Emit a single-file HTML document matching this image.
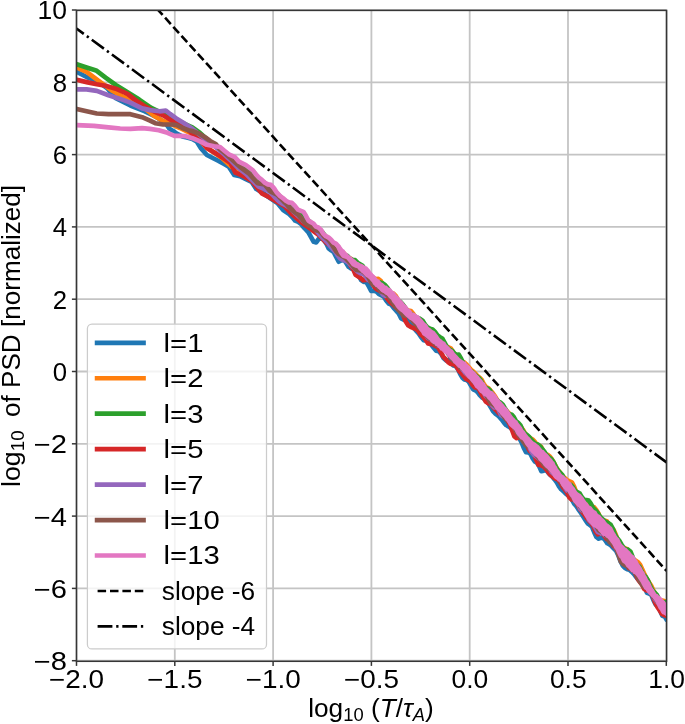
<!DOCTYPE html>
<html><head><meta charset="utf-8"><style>
html,body{margin:0;padding:0;background:#fff;}
svg{display:block;will-change:transform;filter:blur(0.35px);}
text{font-family:"Liberation Sans",sans-serif;fill:#000;}
</style></head><body>
<svg width="685" height="724" viewBox="0 0 685 724">
<rect x="0" y="0" width="685" height="724" fill="#fff"/>
<defs><clipPath id="ax"><rect x="76.5" y="10.4" width="590.10" height="650.90"/></clipPath></defs>
<g stroke="#c4c4c4" stroke-width="1.8"><line x1="76.50" y1="10.4" x2="76.50" y2="661.3"/><line x1="174.80" y1="10.4" x2="174.80" y2="661.3"/><line x1="273.10" y1="10.4" x2="273.10" y2="661.3"/><line x1="371.40" y1="10.4" x2="371.40" y2="661.3"/><line x1="469.70" y1="10.4" x2="469.70" y2="661.3"/><line x1="568.00" y1="10.4" x2="568.00" y2="661.3"/><line x1="666.30" y1="10.4" x2="666.30" y2="661.3"/><line x1="76.5" y1="660.70" x2="666.6" y2="660.70"/><line x1="76.5" y1="588.40" x2="666.6" y2="588.40"/><line x1="76.5" y1="516.10" x2="666.6" y2="516.10"/><line x1="76.5" y1="443.80" x2="666.6" y2="443.80"/><line x1="76.5" y1="371.50" x2="666.6" y2="371.50"/><line x1="76.5" y1="299.20" x2="666.6" y2="299.20"/><line x1="76.5" y1="226.90" x2="666.6" y2="226.90"/><line x1="76.5" y1="154.60" x2="666.6" y2="154.60"/><line x1="76.5" y1="82.30" x2="666.6" y2="82.30"/><line x1="76.5" y1="10.00" x2="666.6" y2="10.00"/></g>
<g clip-path="url(#ax)" fill="none" stroke-width="4.68" stroke-linejoin="round" stroke-linecap="square"><polyline points="76.8,71.9 86.6,77.0 96.8,80.7 107.0,88.0 115.8,98.2 130.4,105.5 145.0,111.3 156.7,117.2 165.4,123.0 169.4,128.6 176.3,133.3 182.4,136.5 188.0,137.8 192.3,139.0 196.7,141.5 201.1,148.5 206.9,155.0 212.7,158.0 218.6,160.9 223.7,163.8 228.8,166.7 234.2,175.0 240.0,176.2 245.9,179.1 251.7,182.0 256.4,189.1 263.0,193.0 270.4,198.4 277.4,203.1 283.2,210.1 286.2,212.1 289.2,214.1 292.2,217.1 295.2,220.7 298.2,221.9 301.2,224.1 303.7,227.4 306.2,230.0 308.7,232.8 311.2,237.3 313.7,241.8 316.2,242.4 318.7,239.0 321.2,238.2 323.7,239.7 326.2,243.3 328.7,248.4 331.2,250.4 333.7,252.0 336.2,257.0 338.7,261.7 341.2,260.5 343.7,259.4 346.2,262.9 348.7,266.9 351.2,268.5 353.7,269.4 356.2,271.5 358.7,275.2 361.2,280.1 363.7,281.8 366.2,281.8 368.7,286.1 371.2,290.9 373.7,290.8 376.2,291.4 378.7,293.8 381.2,295.1 383.7,296.5 386.2,300.5 388.7,303.5 391.2,304.5 393.7,307.9 396.2,310.6 398.7,313.5 401.2,318.4 403.7,319.7 406.2,319.5 408.7,322.4 411.2,325.6 413.7,327.8 416.2,330.7 418.7,333.5 421.2,337.2 423.7,340.1 426.2,340.7 428.7,342.3 431.2,344.6 433.7,347.7 436.2,350.6 438.7,351.2 441.2,353.8 443.7,358.3 446.2,360.4 448.7,360.1 451.2,362.7 453.4,365.5 455.6,366.0 457.8,368.8 460.0,373.5 462.2,377.4 464.4,379.4 466.6,380.0 468.8,381.8 471.0,385.6 473.2,389.3 475.4,390.3 477.6,392.1 479.8,395.2 482.0,397.4 484.2,398.7 486.4,400.6 488.6,403.6 490.8,407.2 493.0,411.2 495.2,413.5 497.4,415.0 499.6,417.1 501.8,419.6 504.0,422.6 506.2,425.1 508.4,426.4 510.6,427.9 512.8,430.1 515.0,431.1 517.2,433.4 519.4,438.1 521.6,442.3 523.8,447.9 526.0,452.2 528.2,452.3 530.4,453.8 532.6,458.2 534.8,461.4 537.0,462.7 539.2,466.4 541.4,471.2 543.6,470.7 545.8,469.6 548.0,472.4 550.2,474.8 552.4,476.7 554.6,479.4 556.8,482.4 559.0,486.3 561.2,489.3 563.4,491.1 565.6,493.4 567.8,495.2 570.0,496.4 572.2,500.2 574.4,504.0 576.6,506.4 578.8,509.9 581.0,513.0 583.2,516.4 585.4,519.9 587.6,523.3 589.8,525.0 592.0,526.8 594.2,532.2 596.4,537.0 598.6,538.7 600.8,537.8 603.0,537.7 605.2,540.1 607.4,543.3 609.6,544.5 611.8,546.3 614.0,548.7 616.2,551.0 618.4,555.4 620.6,561.4 622.8,565.6 625.0,568.0 627.2,569.2 629.4,569.8 631.6,571.7 633.8,573.9 636.0,576.7 638.2,579.4 640.4,581.4 642.6,583.3 644.8,587.9 647.0,592.8 649.2,593.6 651.4,595.1 653.6,600.4 655.8,604.7 658.0,605.9 660.2,610.8 662.4,615.7 664.6,616.4 666.8,620.0 669.0,619.6" stroke="#1f77b4"/><polyline points="76.8,67.5 86.6,71.9 98.3,80.7 111.4,90.1 123.1,96.7 133.3,99.6 145.0,108.4 153.8,115.7 163.1,121.0 170.0,123.5 180.0,128.0 190.0,133.0 200.0,140.5 207.0,148.0 214.2,152.5 222.0,158.0 231.9,167.0 234.9,167.5 237.9,169.6 240.9,171.0 243.9,171.9 246.9,172.3 249.9,172.9 252.9,175.0 255.9,180.5 258.9,186.2 261.9,188.2 264.9,188.0 267.9,189.2 270.9,191.7 273.9,195.3 276.9,198.4 279.9,201.7 282.9,204.4 285.9,206.1 288.9,208.3 291.9,210.6 294.9,213.2 297.9,217.1 300.9,220.8 303.4,222.0 305.9,221.9 308.4,223.0 310.9,225.2 313.4,226.1 315.9,228.4 318.4,232.1 320.9,234.5 323.4,235.5 325.9,236.8 328.4,239.9 330.9,243.7 333.4,248.1 335.9,251.7 338.4,251.9 340.9,251.4 343.4,252.9 345.9,255.7 348.4,257.5 350.9,258.8 353.4,260.8 355.9,263.2 358.4,267.0 360.9,270.2 363.4,271.1 365.9,272.0 368.4,274.3 370.9,276.3 373.4,277.8 375.9,279.0 378.4,278.9 380.9,281.1 383.4,285.7 385.9,288.5 388.4,291.2 390.9,293.2 393.4,293.5 395.9,296.2 398.4,300.6 400.9,303.5 403.4,306.0 405.9,309.2 408.4,310.6 410.9,311.1 413.4,314.1 415.9,318.4 418.4,319.8 420.9,320.8 423.4,325.0 425.9,328.7 428.4,330.3 430.9,330.9 433.4,331.7 435.9,335.5 438.4,341.0 440.9,343.8 443.4,345.2 445.9,346.4 448.4,347.2 450.9,348.6 453.1,352.0 455.3,355.3 457.5,357.0 459.7,360.2 461.9,362.0 464.1,362.3 466.3,364.2 468.5,366.9 470.7,369.4 472.9,371.3 475.1,373.4 477.3,375.8 479.5,377.5 481.7,379.9 483.9,384.2 486.1,387.1 488.3,388.1 490.5,390.6 492.7,393.1 494.9,396.1 497.1,399.9 499.3,403.2 501.5,406.1 503.7,407.9 505.9,410.2 508.1,412.4 510.3,414.9 512.5,418.4 514.7,421.5 516.9,424.3 519.1,426.0 521.3,427.5 523.5,430.7 525.7,434.4 527.9,436.8 530.1,438.0 532.3,439.2 534.5,441.4 536.7,444.3 538.9,445.4 541.1,446.7 543.3,451.4 545.5,454.6 547.7,454.9 549.9,456.6 552.1,459.7 554.3,463.5 556.5,467.9 558.7,470.8 560.9,473.7 563.1,476.6 565.3,478.5 567.5,480.4 569.7,481.4 571.9,482.3 574.1,486.6 576.3,492.3 578.5,495.1 580.7,497.0 582.9,499.7 585.1,501.8 587.3,505.0 589.5,507.6 591.7,507.0 593.9,507.1 596.1,509.7 598.3,513.3 600.5,518.1 602.7,520.8 604.9,520.6 607.1,521.5 609.3,525.6 611.5,528.1 613.7,530.0 615.9,535.0 618.1,540.5 620.3,544.5 622.5,547.3 624.7,548.0 626.9,549.1 629.1,552.6 631.3,557.6 633.5,560.0 635.7,560.6 637.9,562.1 640.1,564.7 642.3,569.4 644.5,574.4 646.7,578.7 648.9,582.2 651.1,585.6 653.3,590.3 655.5,594.2 657.7,598.5 659.9,600.9 662.1,600.5 664.3,601.0 666.5,603.1 668.7,604.2" stroke="#ff7f0e"/><polyline points="76.8,64.3 86.6,67.5 96.1,70.4 105.6,77.7 115.8,85.0 127.5,92.3 139.2,99.6 150.8,107.7 160.0,112.0 170.0,117.0 180.0,122.0 192.3,127.3 200.0,133.0 210.0,142.0 220.0,150.0 231.0,160.0 234.0,160.4 237.0,162.4 240.0,164.5 243.0,165.6 246.0,166.7 249.0,168.3 252.0,170.6 255.0,173.8 258.0,178.0 261.0,181.1 264.0,182.4 267.0,185.3 270.0,188.0 273.0,190.2 276.0,192.9 279.0,195.6 282.0,198.4 285.0,200.7 288.0,203.2 291.0,205.1 294.0,207.2 297.0,210.5 300.0,213.7 302.5,215.5 305.0,217.9 307.5,219.9 310.0,221.6 312.5,224.8 315.0,227.8 317.5,229.1 320.0,229.9 322.5,232.3 325.0,235.6 327.5,239.5 330.0,242.5 332.5,243.9 335.0,245.4 337.5,249.2 340.0,253.0 342.5,255.0 345.0,255.1 347.5,256.0 350.0,258.9 352.5,259.7 355.0,260.1 357.5,262.7 360.0,264.2 362.5,265.7 365.0,269.5 367.5,273.4 370.0,275.4 372.5,278.2 375.0,282.2 377.5,283.2 380.0,282.4 382.5,283.3 385.0,284.9 387.5,287.9 390.0,291.8 392.5,294.7 395.0,297.5 397.5,299.9 400.0,301.4 402.5,304.1 405.0,307.7 407.5,310.7 410.0,313.3 412.5,314.9 415.0,316.4 417.5,318.1 420.0,318.8 422.5,320.6 425.0,324.6 427.5,327.5 430.0,328.6 432.5,329.5 435.0,332.0 437.5,335.4 440.0,337.2 442.5,338.8 445.0,343.3 447.5,348.0 450.0,349.8 452.2,350.8 454.4,353.5 456.6,354.8 458.8,354.7 461.0,358.4 463.2,363.0 465.4,366.3 467.6,369.3 469.8,370.8 472.0,371.9 474.2,374.1 476.4,376.3 478.6,377.7 480.8,380.5 483.0,385.0 485.2,388.0 487.4,388.5 489.6,389.9 491.8,393.6 494.0,397.0 496.2,399.5 498.4,401.7 500.6,402.7 502.8,404.8 505.0,408.5 507.2,412.5 509.4,414.5 511.6,414.5 513.8,417.1 516.0,421.1 518.2,422.8 520.4,425.3 522.6,430.2 524.8,433.5 527.0,434.9 529.2,437.0 531.4,439.9 533.6,442.3 535.8,444.1 538.0,444.6 540.2,446.3 542.4,449.3 544.6,452.0 546.8,455.4 549.0,457.5 551.2,459.0 553.4,461.9 555.6,466.4 557.8,470.2 560.0,472.5 562.2,474.8 564.4,479.7 566.6,484.0 568.8,485.2 571.0,484.9 573.2,487.6 575.4,491.2 577.6,492.3 579.8,493.6 582.0,497.4 584.2,499.8 586.4,500.0 588.6,500.5 590.8,503.7 593.0,507.8 595.2,510.1 597.4,512.6 599.6,516.1 601.8,518.6 604.0,520.6 606.2,522.1 608.4,523.1 610.6,524.7 612.8,528.6 615.0,534.7 617.2,538.4 619.4,540.9 621.6,544.7 623.8,548.1 626.0,549.7 628.2,549.7 630.4,551.5 632.6,556.9 634.8,562.4 637.0,564.9 639.2,566.4 641.4,570.9 643.6,575.0 645.8,577.0 648.0,580.5 650.2,586.1 652.4,590.3 654.6,592.5 656.8,594.9 659.0,599.4 661.2,602.0 663.4,602.5 665.6,602.1 667.8,602.5" stroke="#2ca02c"/><polyline points="76.8,79.9 86.6,82.1 96.8,84.3 105.6,85.8 115.8,88.7 127.5,93.8 134.8,99.6 143.5,105.5 153.8,111.3 162.5,115.0 171.9,120.6 178.0,122.8 185.0,127.0 192.3,133.9 199.6,139.5 206.9,148.0 214.2,152.5 220.0,156.0 225.9,159.8 230.3,162.8 235.4,172.7 243.5,176.2 251.7,180.9 256.4,186.7 262.2,193.7 269.2,197.2 277.4,201.9 285.0,206.6 291.7,213.9 301.0,222.0 309.2,227.9 318.5,234.9 326.7,243.1 334.9,248.9 343.1,254.7 345.6,257.9 348.1,261.7 350.6,265.6 353.1,269.0 355.6,274.7 358.1,276.4 360.6,277.9 363.1,280.3 365.6,279.9 368.1,279.6 370.6,281.8 373.1,284.9 375.6,288.3 378.1,290.0 380.6,291.2 383.1,293.8 385.6,296.4 388.1,299.6 390.6,302.4 393.1,304.6 395.6,307.1 398.1,309.3 400.6,311.0 403.1,314.8 405.6,321.3 408.1,325.2 410.6,326.8 413.1,328.0 415.6,328.7 418.1,330.7 420.6,334.3 423.1,336.5 425.6,339.5 428.1,343.4 430.6,344.0 433.1,344.4 435.6,345.9 438.1,347.3 440.6,351.5 443.1,356.5 445.6,359.1 448.1,362.1 450.6,364.0 452.8,364.2 455.0,364.6 457.2,367.5 459.4,371.2 461.6,373.2 463.8,376.0 466.0,378.8 468.2,379.8 470.4,381.5 472.6,385.0 474.8,387.4 477.0,387.6 479.2,389.6 481.4,393.8 483.6,397.9 485.8,401.6 488.0,403.1 490.2,403.6 492.4,406.4 494.6,408.7 496.8,410.7 499.0,413.4 501.2,413.9 503.4,415.0 505.6,418.3 507.8,421.0 510.0,424.5 512.2,430.4 514.4,436.4 516.6,438.1 518.8,437.1 521.0,437.7 523.2,440.7 525.4,443.6 527.6,446.9 529.8,450.9 532.0,452.5 534.2,454.6 536.4,460.3 538.6,465.0 540.8,465.2 543.0,466.0 545.2,468.0 547.4,470.8 549.6,473.9 551.8,475.9 554.0,477.7 556.2,478.9 558.4,479.8 560.6,482.9 562.8,487.0 565.0,489.6 567.2,492.7 569.4,497.6 571.6,499.5 573.8,499.1 576.0,501.3 578.2,505.9 580.4,509.6 582.6,512.3 584.8,515.2 587.0,518.3 589.2,521.2 591.4,523.4 593.6,526.7 595.8,531.8 598.0,534.4 600.2,533.0 602.4,533.2 604.6,536.3 606.8,539.0 609.0,539.8 611.2,542.1 613.4,545.7 615.6,547.8 617.8,551.0 620.0,554.3 622.2,556.8 624.4,559.9 626.6,564.7 628.8,568.1 631.0,569.1 633.2,569.6 635.4,573.4 637.6,578.7 639.8,581.8 642.0,584.7 644.2,588.8 646.4,590.5 648.6,590.7 650.8,592.1 653.0,596.5 655.2,602.6 657.4,607.0 659.6,610.3 661.8,613.7 664.0,615.1 666.2,615.5 668.4,617.6" stroke="#d62728"/><polyline points="76.8,89.4 86.6,89.4 96.8,90.9 108.5,95.3 120.2,98.9 130.4,102.6 142.1,108.4 150.0,110.1 159.6,111.3 165.8,110.6 170.1,114.0 176.3,118.4 183.3,122.8 192.3,128.8 199.6,134.6 206.9,140.4 215.7,147.0 224.4,154.5 230.3,160.0 236.5,166.5 245.9,173.9 258.7,186.7 266.9,190.2 269.9,192.1 272.9,195.1 275.9,198.4 278.9,201.3 281.9,203.4 284.9,204.8 287.9,206.7 290.9,208.9 293.9,212.0 296.9,214.9 299.9,217.3 302.9,220.7 305.4,222.8 307.9,223.6 310.4,225.2 312.9,227.4 315.4,229.5 317.9,232.5 320.4,235.6 322.9,238.1 325.4,240.4 327.9,243.0 330.4,246.2 332.9,249.1 335.4,251.8 337.9,255.6 340.4,258.7 342.9,260.0 345.4,260.6 347.9,262.2 350.4,264.7 352.9,267.1 355.4,269.3 357.9,271.8 360.4,273.3 362.9,273.3 365.4,275.9 367.9,279.6 370.4,281.1 372.9,282.7 375.4,284.7 377.9,286.2 380.4,290.0 382.9,294.7 385.4,295.8 387.9,295.4 390.4,297.1 392.9,300.9 395.4,304.2 397.9,305.7 400.4,308.3 402.9,312.4 405.4,314.7 407.9,315.2 410.4,315.7 412.9,317.4 415.4,319.8 417.9,322.8 420.4,327.0 422.9,330.5 425.4,334.1 427.9,338.0 430.4,339.1 432.9,339.6 435.4,342.9 437.9,345.4 440.4,345.7 442.9,347.6 445.4,350.2 447.9,353.4 450.4,356.4 452.6,356.8 454.8,358.8 457.0,362.6 459.2,365.5 461.4,368.2 463.6,370.7 465.8,373.5 468.0,375.4 470.2,376.2 472.4,378.9 474.6,382.2 476.8,385.2 479.0,387.6 481.2,389.0 483.4,391.9 485.6,395.8 487.8,398.0 490.0,400.5 492.2,405.4 494.4,407.5 496.6,406.8 498.8,410.3 501.0,415.1 503.2,416.7 505.4,417.4 507.6,419.0 509.8,421.2 512.0,423.7 514.2,427.2 516.4,430.9 518.6,433.3 520.8,435.1 523.0,437.9 525.2,441.1 527.4,444.0 529.6,447.8 531.8,452.0 534.0,454.8 536.2,456.5 538.4,458.3 540.6,459.7 542.8,461.2 545.0,463.5 547.2,466.0 549.4,468.4 551.6,471.9 553.8,473.9 556.0,474.8 558.2,477.0 560.4,480.0 562.6,483.4 564.8,486.9 567.0,490.5 569.2,491.4 571.4,492.3 573.6,495.3 575.8,498.7 578.0,503.8 580.2,508.9 582.4,510.7 584.6,511.0 586.8,514.7 589.0,519.9 591.2,522.2 593.4,524.1 595.6,528.2 597.8,532.0 600.0,532.8 602.2,533.0 604.4,534.8 606.6,536.5 608.8,536.9 611.0,539.0 613.2,543.1 615.4,546.6 617.6,550.7 619.8,556.4 622.0,560.8 624.2,561.1 626.4,562.2 628.6,565.2 630.8,568.5 633.0,570.9 635.2,571.5 637.4,572.7 639.6,575.0 641.8,579.5 644.0,584.5 646.2,586.9 648.4,588.4 650.6,591.6 652.8,595.6 655.0,599.2 657.2,602.0 659.4,604.5 661.6,606.9 663.8,610.1 666.0,612.4 668.2,611.2" stroke="#9467bd"/><polyline points="76.8,109.1 86.6,111.3 96.8,113.5 108.5,114.2 120.2,114.2 130.4,114.2 142.1,117.2 150.0,120.6 155.3,123.2 163.1,124.5 171.9,124.5 176.3,125.0 182.4,128.0 188.5,130.2 192.3,131.0 199.6,133.9 205.4,137.5 210.5,141.2 215.7,144.1 220.0,149.2 224.4,152.8 230.3,158.0 235.0,162.3 240.0,166.9 249.4,173.9 257.6,183.2 264.6,184.4 270.4,191.4 277.4,194.9 280.4,198.2 283.4,201.2 286.4,203.9 289.4,207.5 292.4,210.4 295.4,212.7 298.4,214.9 301.4,218.4 303.9,221.5 306.4,223.9 308.9,225.7 311.4,226.7 313.9,228.7 316.4,230.4 318.9,230.8 321.4,233.1 323.9,236.1 326.4,238.2 328.9,240.3 331.4,243.7 333.9,247.8 336.4,251.6 338.9,254.1 341.4,255.6 343.9,256.9 346.4,258.9 348.9,261.6 351.4,264.1 353.9,267.3 356.4,270.0 358.9,270.3 361.4,270.5 363.9,272.2 366.4,274.5 368.9,278.2 371.4,282.7 373.9,284.6 376.4,285.5 378.9,288.7 381.4,291.6 383.9,292.6 386.4,294.1 388.9,297.0 391.4,300.5 393.9,304.1 396.4,307.5 398.9,310.5 401.4,313.2 403.9,315.4 406.4,315.9 408.9,316.3 411.4,319.1 413.9,322.2 416.4,324.8 418.9,327.6 421.4,329.2 423.9,331.7 426.4,335.7 428.9,338.0 431.4,339.7 433.9,342.5 436.4,344.9 438.9,345.0 441.4,345.0 443.9,348.0 446.4,351.4 448.9,354.1 451.4,358.1 453.6,361.0 455.8,361.5 458.0,363.8 460.2,367.6 462.4,368.5 464.6,369.6 466.8,373.4 469.0,376.3 471.2,378.5 473.4,381.3 475.6,382.9 477.8,384.8 480.0,388.5 482.2,391.4 484.4,393.2 486.6,395.7 488.8,399.8 491.0,403.2 493.2,404.4 495.4,406.3 497.6,408.2 499.8,410.1 502.0,413.6 504.2,417.1 506.4,419.6 508.6,420.8 510.8,421.9 513.0,424.8 515.2,429.0 517.4,433.2 519.6,436.6 521.8,439.3 524.0,442.7 526.2,445.6 528.4,446.1 530.6,446.4 532.8,448.4 535.0,452.5 537.2,456.4 539.4,458.6 541.6,461.2 543.8,464.3 546.0,467.0 548.2,468.7 550.4,469.5 552.6,471.4 554.8,474.2 557.0,476.5 559.2,478.5 561.4,482.5 563.6,485.8 565.8,486.9 568.0,489.6 570.2,493.0 572.4,496.9 574.6,500.6 576.8,503.3 579.0,505.1 581.2,507.3 583.4,510.8 585.6,513.7 587.8,516.6 590.0,517.8 592.2,517.9 594.4,521.4 596.6,526.6 598.8,530.2 601.0,531.6 603.2,532.1 605.4,533.9 607.6,538.8 609.8,542.2 612.0,543.6 614.2,544.9 616.4,548.2 618.6,555.3 620.8,561.6 623.0,563.9 625.2,565.2 627.4,566.0 629.6,567.4 631.8,570.0 634.0,571.1 636.2,573.9 638.4,578.7 640.6,582.7 642.8,585.6 645.0,587.5 647.2,588.4 649.4,590.6 651.6,594.3 653.8,596.7 656.0,599.3 658.2,603.2 660.4,607.2 662.6,609.5 664.8,609.8 667.0,611.8 669.2,614.4" stroke="#8c564b"/><polygon points="330.0,236.5 331.2,237.6 332.4,239.3 333.6,240.0 334.8,241.7 336.0,242.2 337.2,242.8 338.4,243.7 339.6,244.9 340.8,245.7 342.0,247.5 343.2,249.1 344.4,249.7 345.6,251.6 346.8,252.8 348.0,253.8 349.2,255.3 350.4,256.3 351.6,256.7 352.8,258.1 354.0,258.9 355.2,259.7 356.4,261.0 357.6,261.9 358.8,262.2 360.0,263.5 361.2,264.4 362.4,264.9 363.6,265.7 364.8,267.2 366.0,267.8 367.2,268.9 368.4,270.3 369.6,271.6 370.8,271.9 372.0,272.4 373.2,273.9 374.4,275.1 375.6,276.3 376.8,277.9 378.0,279.2 379.2,279.5 380.4,281.2 381.6,282.5 382.8,283.0 384.0,284.2 385.2,285.5 386.4,285.5 387.6,286.5 388.8,287.7 390.0,287.8 391.2,288.8 392.4,290.2 393.6,291.3 394.8,292.0 396.0,293.9 397.2,295.2 398.4,296.6 399.6,297.6 400.8,299.6 402.0,300.6 403.2,301.7 404.4,303.4 405.6,304.8 406.8,305.6 408.0,307.6 409.2,308.8 410.4,309.4 411.6,310.9 412.8,312.7 414.0,312.6 415.2,313.5 416.4,314.3 417.6,314.9 418.8,315.3 420.0,316.9 421.2,318.3 422.4,319.5 423.6,321.0 424.8,322.5 426.0,323.6 427.2,324.6 428.4,326.7 429.6,327.8 430.8,328.5 432.0,329.8 433.2,330.5 434.4,331.1 435.6,332.5 436.8,334.0 438.0,335.4 439.2,337.6 440.4,338.7 441.6,339.6 442.8,340.7 444.0,341.6 445.2,342.1 446.4,344.2 447.6,345.2 448.8,346.5 450.0,347.7 451.2,349.0 452.4,349.6 453.6,351.1 454.8,353.2 456.0,354.7 457.2,356.4 458.4,357.5 459.6,358.8 460.8,358.8 462.0,359.9 463.2,360.5 464.4,361.4 465.6,361.5 466.8,363.5 468.0,364.5 469.2,365.5 470.4,366.7 471.6,368.7 472.8,369.9 474.0,370.9 475.2,372.1 476.4,373.6 477.6,375.1 478.8,376.1 480.0,377.7 481.2,379.1 482.4,380.3 483.6,382.0 484.8,383.1 486.0,385.2 487.2,387.1 488.4,388.3 489.6,389.5 490.8,390.8 492.0,391.0 493.2,391.7 494.4,393.2 495.6,394.2 496.8,396.0 498.0,398.1 499.2,399.3 500.4,401.0 501.6,402.1 502.8,403.4 504.0,404.7 505.2,406.5 506.4,407.2 507.6,408.8 508.8,410.5 510.0,412.2 511.2,414.3 512.4,415.9 513.6,417.4 514.8,418.5 516.0,419.9 517.2,420.4 518.4,422.7 519.6,424.2 520.8,425.7 522.0,427.2 523.2,429.7 524.4,430.7 525.6,432.5 526.8,434.2 528.0,435.8 529.2,437.2 530.4,438.3 531.6,439.8 532.8,441.1 534.0,442.0 535.2,442.4 536.4,443.6 537.6,444.6 538.8,445.2 540.0,446.7 541.2,448.3 542.4,449.7 543.6,449.9 544.8,451.5 546.0,452.8 547.2,453.8 548.4,455.1 549.6,456.4 550.8,458.0 552.0,458.9 553.2,460.9 554.4,462.0 555.6,465.0 556.8,466.6 558.0,469.0 559.2,470.2 560.4,472.3 561.6,474.0 562.8,474.9 564.0,475.5 565.2,476.9 566.4,477.9 567.6,478.7 568.8,480.7 570.0,481.9 571.2,482.6 572.4,484.9 573.6,486.4 574.8,487.7 576.0,489.9 577.2,491.8 578.4,492.8 579.6,493.5 580.8,494.3 582.0,495.7 583.2,497.0 584.4,499.1 585.6,500.8 586.8,502.3 588.0,503.5 589.2,505.5 590.4,506.1 591.6,506.8 592.8,508.4 594.0,509.9 595.2,510.4 596.4,511.3 597.6,513.4 598.8,514.6 600.0,515.0 601.2,516.4 602.4,517.7 603.6,518.8 604.8,520.0 606.0,521.8 607.2,523.2 608.4,523.9 609.6,525.0 610.8,526.3 612.0,527.0 613.2,529.4 614.4,531.9 615.6,533.7 616.8,535.9 618.0,537.6 619.2,538.6 620.4,541.4 621.6,543.7 622.8,545.1 624.0,546.1 625.2,547.6 626.4,547.9 627.6,549.2 628.8,550.6 630.0,551.4 631.2,553.3 632.4,554.4 633.6,555.3 634.8,556.6 636.0,559.1 637.2,560.0 638.4,562.8 639.6,564.6 640.8,566.2 642.0,568.0 643.2,570.8 644.4,572.1 645.6,575.0 646.8,576.8 648.0,579.4 649.2,580.9 650.4,583.1 651.6,585.7 652.8,588.3 654.0,589.8 655.2,592.1 656.4,593.7 657.6,594.0 658.8,595.4 660.0,596.2 661.2,597.1 662.4,598.7 663.6,600.1 664.8,600.9 666.0,602.7 667.2,603.6 668.4,603.7 669.6,604.1 669.6,615.9 668.4,616.7 667.2,616.5 666.0,616.2 664.8,615.2 663.6,614.6 662.4,614.3 661.2,612.8 660.0,610.3 658.8,608.9 657.6,606.6 656.4,604.2 655.2,601.8 654.0,600.1 652.8,598.1 651.6,597.3 650.4,595.8 649.2,594.8 648.0,593.6 646.8,591.9 645.6,590.0 644.4,589.2 643.2,587.0 642.0,585.0 640.8,582.5 639.6,580.7 638.4,579.0 637.2,576.9 636.0,575.5 634.8,574.3 633.6,574.1 632.4,572.3 631.2,571.9 630.0,570.4 628.8,569.1 627.6,567.8 626.4,566.8 625.2,564.8 624.0,563.6 622.8,563.0 621.6,561.2 620.4,558.4 619.2,557.6 618.0,555.3 616.8,552.8 615.6,550.1 614.4,548.6 613.2,546.1 612.0,544.0 610.8,542.5 609.6,540.7 608.4,539.3 607.2,538.0 606.0,537.5 604.8,536.1 603.6,535.9 602.4,535.2 601.2,534.1 600.0,532.4 598.8,531.4 597.6,529.4 596.4,528.7 595.2,527.7 594.0,527.5 592.8,526.5 591.6,525.6 590.4,523.8 589.2,522.7 588.0,521.3 586.8,519.5 585.6,517.7 584.4,516.1 583.2,514.0 582.0,511.6 580.8,510.3 579.6,508.6 578.4,507.0 577.2,506.5 576.0,505.1 574.8,503.6 573.6,502.6 572.4,500.2 571.2,497.6 570.0,496.3 568.8,494.2 567.6,491.8 566.4,491.5 565.2,490.5 564.0,488.2 562.8,487.2 561.6,486.0 560.4,483.8 559.2,481.8 558.0,481.4 556.8,480.0 555.6,479.3 554.4,478.3 553.2,476.8 552.0,474.4 550.8,473.0 549.6,471.4 548.4,470.2 547.2,468.8 546.0,468.1 544.8,466.7 543.6,465.4 542.4,463.8 541.2,462.6 540.0,461.6 538.8,460.4 537.6,458.5 536.4,457.3 535.2,456.6 534.0,455.5 532.8,453.9 531.6,452.9 530.4,451.6 529.2,450.2 528.0,448.1 526.8,446.4 525.6,445.0 524.4,443.1 523.2,441.0 522.0,439.7 520.8,439.5 519.6,437.9 518.4,436.6 517.2,435.2 516.0,433.5 514.8,430.7 513.6,429.5 512.4,428.5 511.2,427.6 510.0,426.5 508.8,425.3 507.6,423.0 506.4,421.2 505.2,420.2 504.0,418.3 502.8,416.9 501.6,415.8 500.4,414.5 499.2,412.8 498.0,411.8 496.8,410.2 495.6,409.4 494.4,407.4 493.2,405.4 492.0,404.2 490.8,402.6 489.6,400.8 488.4,399.7 487.2,398.4 486.0,396.8 484.8,396.5 483.6,395.9 482.4,394.6 481.2,393.3 480.0,392.7 478.8,391.2 477.6,389.2 476.4,388.3 475.2,387.5 474.0,385.2 472.8,383.4 471.6,382.2 470.4,380.7 469.2,379.2 468.0,378.6 466.8,377.0 465.6,375.4 464.4,373.7 463.2,372.5 462.0,370.8 460.8,369.9 459.6,368.1 458.4,367.7 457.2,366.5 456.0,365.2 454.8,363.9 453.6,363.2 452.4,361.3 451.2,359.9 450.0,359.0 448.8,357.3 447.6,356.2 446.4,354.6 445.2,353.9 444.0,352.9 442.8,352.1 441.6,350.8 440.4,350.6 439.2,348.7 438.0,347.6 436.8,346.2 435.6,346.0 434.4,344.3 433.2,344.1 432.0,342.9 430.8,342.2 429.6,340.3 428.4,339.4 427.2,338.6 426.0,337.4 424.8,336.4 423.6,335.7 422.4,334.9 421.2,332.6 420.0,331.3 418.8,329.6 417.6,327.8 416.4,325.6 415.2,324.1 414.0,323.0 412.8,321.8 411.6,320.7 410.4,319.9 409.2,319.5 408.0,318.3 406.8,317.3 405.6,316.2 404.4,315.0 403.2,313.8 402.0,312.6 400.8,311.8 399.6,310.8 398.4,309.7 397.2,308.6 396.0,307.0 394.8,305.0 393.6,303.5 392.4,302.3 391.2,299.7 390.0,298.8 388.8,297.8 387.6,296.0 386.4,294.7 385.2,294.6 384.0,293.2 382.8,292.7 381.6,292.1 380.4,290.9 379.2,289.2 378.0,288.8 376.8,287.3 375.6,286.9 374.4,285.5 373.2,284.4 372.0,282.3 370.8,280.9 369.6,279.6 368.4,278.4 367.2,277.4 366.0,276.9 364.8,275.7 363.6,274.5 362.4,273.2 361.2,272.5 360.0,271.1 358.8,270.2 357.6,268.6 356.4,267.9 355.2,266.7 354.0,265.8 352.8,265.1 351.6,263.9 350.4,263.0 349.2,261.8 348.0,260.8 346.8,258.9 345.6,257.7 344.4,256.8 343.2,256.1 342.0,255.0 340.8,254.3 339.6,252.8 338.4,251.2 337.2,249.2 336.0,247.2 334.8,245.7 333.6,244.8 332.4,243.7 331.2,242.5 330.0,241.8" fill="#e377c2" stroke="none"/><polyline points="76.8,125.2 93.9,125.9 108.5,127.4 120.2,128.5 130.4,128.8 142.1,128.1 150.0,128.9 158.8,130.2 167.5,132.8 174.5,135.9 178.9,135.9 185.0,136.1 192.3,138.2 199.6,141.2 206.9,144.8 214.2,146.3 220.0,147.0 224.4,150.7 228.8,154.3 235.0,157.2 238.9,161.6 245.9,165.1 252.9,170.4 255.9,174.4 258.9,177.6 261.9,179.9 264.9,182.7 267.9,184.4 270.9,184.9 273.9,188.1 276.9,192.7 279.9,195.9 282.9,198.1 285.9,200.8 288.9,202.4 291.9,202.8 294.9,205.9 297.9,209.6 300.9,210.8 303.4,211.8 305.9,215.8 308.4,220.5 310.9,222.2 313.4,223.5 315.9,226.6 318.4,227.5 320.9,229.7 323.4,233.9 325.9,236.2 328.4,237.4 330.9,239.5 333.4,242.5 335.9,243.6 338.4,246.3 340.9,252.2 343.4,255.7 345.9,256.4 348.4,257.6 350.9,260.8 353.4,264.2 355.9,265.5 358.4,265.4 360.9,266.1 363.4,267.6 365.9,268.7 368.4,271.6 370.9,275.7 373.4,278.4 375.9,281.0 378.4,284.1 380.9,287.7 383.4,289.9 385.9,291.3 388.4,293.3 390.9,294.7 393.4,297.4 395.9,300.5 398.4,302.1 400.9,304.2 403.4,306.9 405.9,310.9 408.4,314.3 410.9,315.6 413.4,317.2 415.9,319.0 418.4,320.6 420.9,324.2 423.4,329.7 425.9,333.3 428.4,333.6 430.9,334.5 433.4,337.0 435.9,339.6 438.4,342.6 440.9,345.2 443.4,347.6 445.9,349.9 448.4,351.5 450.9,353.0 453.1,354.6 455.3,356.9 457.5,359.4 459.7,362.0 461.9,364.5 464.1,367.6 466.3,369.8 468.5,370.8 470.7,372.8 472.9,376.2 475.1,380.6 477.3,384.4 479.5,385.9 481.7,387.7 483.9,389.8 486.1,391.7 488.3,394.6 490.5,395.5 492.7,397.5 494.9,403.6 497.1,406.4 499.3,406.5 501.5,408.8 503.7,411.7 505.9,413.7 508.1,415.4 510.3,418.5 512.5,422.4 514.7,426.0 516.9,429.1 519.1,432.4 521.3,435.4 523.5,436.9 525.7,438.0 527.9,439.3 530.1,442.7 532.3,446.9 534.5,449.2 536.7,451.3 538.9,453.1 541.1,454.4 543.3,456.6 545.5,459.0 547.7,462.0 549.9,465.5 552.1,467.9 554.3,469.4 556.5,472.0 558.7,475.7 560.9,479.2 563.1,483.3 565.3,487.0 567.5,488.2 569.7,489.2 571.9,491.0 574.1,493.2 576.3,495.7 578.5,498.7 580.7,502.0 582.9,505.4 585.1,508.4 587.3,510.4 589.5,512.1 591.7,514.9 593.9,518.8 596.1,521.9 598.3,524.4 600.5,526.6 602.7,528.3 604.9,529.8 607.1,532.8 609.3,535.4 611.5,536.1 613.7,540.1 615.9,544.8 618.1,547.9 620.3,551.6 622.5,555.1 624.7,556.3 626.9,558.0 629.1,559.6 631.3,561.4 633.5,563.9 635.7,567.0 637.9,570.7 640.1,573.4 642.3,576.6 644.5,581.6 646.7,585.6 648.9,587.8 651.1,590.2 653.3,593.7 655.5,597.4 657.7,599.7 659.9,602.0 662.1,607.1 664.3,609.6 666.5,609.3 668.7,610.5" stroke="#e377c2"/></g>
<g clip-path="url(#ax)" stroke="#000" stroke-width="2.6"><line x1="76.50" y1="-80.00" x2="666.60" y2="570.90" stroke-dasharray="8.5 3.7" stroke-dashoffset="2.3"/><line x1="76.50" y1="28.48" x2="666.60" y2="462.41" stroke-dasharray="15 3.8 2.35 3.8" stroke-dashoffset="5.96"/></g>
<g stroke="#363636" stroke-width="1.5" fill="none"><rect x="76.5" y="10.4" width="590.10" height="650.90"/><line x1="76.50" y1="661.3" x2="76.50" y2="665.9"/><line x1="174.80" y1="661.3" x2="174.80" y2="665.9"/><line x1="273.10" y1="661.3" x2="273.10" y2="665.9"/><line x1="371.40" y1="661.3" x2="371.40" y2="665.9"/><line x1="469.70" y1="661.3" x2="469.70" y2="665.9"/><line x1="568.00" y1="661.3" x2="568.00" y2="665.9"/><line x1="666.30" y1="661.3" x2="666.30" y2="665.9"/><line x1="71.9" y1="660.70" x2="76.5" y2="660.70"/><line x1="71.9" y1="588.40" x2="76.5" y2="588.40"/><line x1="71.9" y1="516.10" x2="76.5" y2="516.10"/><line x1="71.9" y1="443.80" x2="76.5" y2="443.80"/><line x1="71.9" y1="371.50" x2="76.5" y2="371.50"/><line x1="71.9" y1="299.20" x2="76.5" y2="299.20"/><line x1="71.9" y1="226.90" x2="76.5" y2="226.90"/><line x1="71.9" y1="154.60" x2="76.5" y2="154.60"/><line x1="71.9" y1="82.30" x2="76.5" y2="82.30"/><line x1="71.9" y1="10.00" x2="76.5" y2="10.00"/></g>
<g font-size="25"><text transform="translate(67.0,670.30) scale(1.165,1)" text-anchor="end">−8</text><text transform="translate(67.0,597.98) scale(1.165,1)" text-anchor="end">−6</text><text transform="translate(67.0,525.65) scale(1.165,1)" text-anchor="end">−4</text><text transform="translate(67.0,453.33) scale(1.165,1)" text-anchor="end">−2</text><text transform="translate(67.0,381.01) scale(1.03,1)" text-anchor="end">0</text><text transform="translate(67.0,308.69) scale(1.03,1)" text-anchor="end">2</text><text transform="translate(67.0,236.37) scale(1.03,1)" text-anchor="end">4</text><text transform="translate(67.0,164.04) scale(1.03,1)" text-anchor="end">6</text><text transform="translate(67.0,91.72) scale(1.03,1)" text-anchor="end">8</text><text transform="translate(67.0,19.40) scale(1.06,1)" text-anchor="end">10</text><text transform="translate(76.50,687.5) scale(1.117,1)" text-anchor="middle">−2.0</text><text transform="translate(174.85,687.5) scale(1.117,1)" text-anchor="middle">−1.5</text><text transform="translate(273.20,687.5) scale(1.117,1)" text-anchor="middle">−1.0</text><text transform="translate(371.55,687.5) scale(1.117,1)" text-anchor="middle">−0.5</text><text transform="translate(469.90,687.5) scale(1.056,1)" text-anchor="middle">0.0</text><text transform="translate(568.25,687.5) scale(1.056,1)" text-anchor="middle">0.5</text><text transform="translate(666.60,687.5) scale(1.056,1)" text-anchor="middle">1.0</text></g>
<text transform="translate(308.2,716.6) scale(1.05,1)" font-size="25">log<tspan font-size="17.5" dy="4">10</tspan><tspan dy="-4"> (</tspan><tspan font-style="italic">T</tspan>/<tspan font-style="italic">τ</tspan><tspan font-size="17.5" dy="4" font-style="italic">A</tspan><tspan dy="-4">)</tspan></text>
<text transform="translate(20.2,487.0) rotate(-90) scale(1.072,1)" font-size="25">log<tspan font-size="17.5" dy="4">10</tspan></text>
<text transform="translate(20.2,417.0) rotate(-90) scale(1.045,1)" font-size="25">of PSD [normalized]</text>
<rect x="87.4" y="324" width="179.1" height="324.9" rx="4.5" ry="4.5" fill="#fff" fill-opacity="0.8" stroke="#cccccc" stroke-width="1.25"/>
<g font-size="25"><line x1="97.1" y1="342.80" x2="143.5" y2="342.80" stroke="#1f77b4" stroke-width="4.68" stroke-linecap="square"/><text transform="translate(163.6,351.70) scale(1.17,1)">l=1</text><line x1="97.1" y1="378.25" x2="143.5" y2="378.25" stroke="#ff7f0e" stroke-width="4.68" stroke-linecap="square"/><text transform="translate(163.6,387.15) scale(1.17,1)">l=2</text><line x1="97.1" y1="413.70" x2="143.5" y2="413.70" stroke="#2ca02c" stroke-width="4.68" stroke-linecap="square"/><text transform="translate(163.6,422.60) scale(1.17,1)">l=3</text><line x1="97.1" y1="449.15" x2="143.5" y2="449.15" stroke="#d62728" stroke-width="4.68" stroke-linecap="square"/><text transform="translate(163.6,458.05) scale(1.17,1)">l=5</text><line x1="97.1" y1="484.60" x2="143.5" y2="484.60" stroke="#9467bd" stroke-width="4.68" stroke-linecap="square"/><text transform="translate(163.6,493.50) scale(1.17,1)">l=7</text><line x1="97.1" y1="520.05" x2="143.5" y2="520.05" stroke="#8c564b" stroke-width="4.68" stroke-linecap="square"/><text transform="translate(163.6,528.95) scale(1.17,1)">l=10</text><line x1="97.1" y1="555.50" x2="143.5" y2="555.50" stroke="#e377c2" stroke-width="4.68" stroke-linecap="square"/><text transform="translate(163.6,564.40) scale(1.17,1)">l=13</text><line x1="97.6" y1="590.95" x2="143.8" y2="590.95" stroke="#000" stroke-width="2.6" stroke-dasharray="8.5 3.9"/><text transform="translate(161.8,599.85) scale(1.05,1)">slope -6</text><line x1="97.6" y1="626.40" x2="143.8" y2="626.40" stroke="#000" stroke-width="2.6" stroke-dasharray="14.8 3.8 2.3 3.8"/><text transform="translate(161.8,635.30) scale(1.05,1)">slope -4</text></g>
</svg>
</body></html>
